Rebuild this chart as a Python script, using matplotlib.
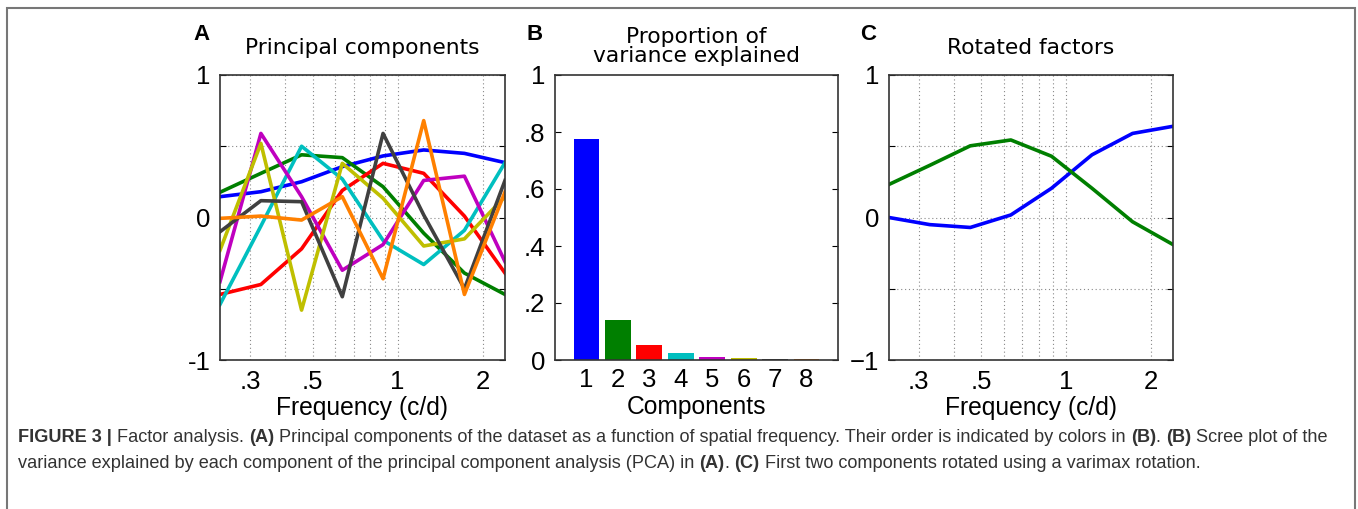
import numpy as np
import matplotlib
matplotlib.use("Agg")
import matplotlib.pyplot as plt
from matplotlib.patches import Rectangle

# spatial frequencies (c/d), log spaced
freqs = [0.235, 0.328, 0.457, 0.637, 0.888, 1.237, 1.724, 2.40]

# principal component loadings (panel A)
pc1 = [0.146, 0.181, 0.251, 0.357, 0.432, 0.474, 0.450, 0.385]
pc2 = [0.177, 0.31, 0.44, 0.42, 0.216, -0.11, -0.39, -0.54]
pc3 = [-0.54, -0.47, -0.22, 0.19, 0.38, 0.31, 0.01, -0.39]
pc4 = [-0.61, -0.06, 0.50, 0.27, -0.16, -0.33, -0.09, 0.385]
pc5 = [-0.45, 0.59, 0.146, -0.37, -0.19, 0.26, 0.29, -0.31]
pc6 = [-0.23, 0.52, -0.65, 0.38, 0.135, -0.20, -0.15, 0.146]
pc7 = [-0.10, 0.118, 0.111, -0.556, 0.59, 0.018, -0.50, 0.26]
pc8 = [-0.006, 0.01, -0.018, 0.146, -0.43, 0.68, -0.54, 0.18]
components = [pc1, pc2, pc3, pc4, pc5, pc6, pc7, pc8]

# variance explained (panel B)
comp_labels = [1, 2, 3, 4, 5, 6, 7, 8]
var_explained = [0.774, 0.140, 0.053, 0.023, 0.012, 0.007, 0.003, 0.003]

# rotated factors (panel C)
rot1 = [0.0, -0.05, -0.07, 0.018, 0.205, 0.44, 0.59, 0.64]
rot2 = [0.232, 0.366, 0.503, 0.544, 0.43, 0.205, -0.03, -0.19]

colors = ["#0000ff", "#007f00", "#ff0000", "#00bfbf", "#bf00bf",
          "#bfbf00", "#404040", "#ff8000"]

tick_font = "Liberation Sans"
title_font = "DejaVu Sans"
grid_style = dict(linestyle=(0, (1, 2.5)), color="#888888", linewidth=0.8)

fig = plt.figure(figsize=(13.58, 5.09), dpi=100)
W, H = 1358.0, 509.0


def px_axes(x0, y0, x1, y1):
    return fig.add_axes([x0 / W, 1 - y1 / H, (x1 - x0) / W, (y1 - y0) / H])


def style_axes(ax):
    for s in ax.spines.values():
        s.set_linewidth(1.2)
        s.set_color("#333333")
    ax.tick_params(direction="in", length=4, width=0.8, top=False, right=True,
                   labelsize=18.5, pad=7)
    for lab in ax.get_xticklabels() + ax.get_yticklabels():
        lab.set_fontfamily(tick_font)


def freq_axes(ax, ylabels):
    ax.set_xscale("log")
    ax.set_xlim(freqs[0], freqs[-1])
    ax.set_ylim(-1, 1)
    ax.set_xticks([0.3, 0.5, 1, 2])
    ax.set_xticklabels([".3", ".5", "1", "2"])
    ax.set_xticks([0.4, 0.6, 0.7, 0.8, 0.9], minor=True)
    ax.set_xticklabels([], minor=True)
    ax.set_yticks([-1, -0.5, 0, 0.5, 1])
    ax.set_yticklabels(ylabels)
    ax.grid(True, which="both", axis="x", **grid_style)
    ax.grid(True, which="major", axis="y", **grid_style)
    ax.tick_params(axis="x", which="both", bottom=False, top=False)
    style_axes(ax)
    ax.set_xlabel("Frequency (c/d)", fontsize=17.7, fontfamily=tick_font, labelpad=2)


# Panel A
axA = px_axes(220, 75, 505, 360)
for vals, c in zip(components, colors):
    axA.plot(freqs, vals, color=c, linewidth=2.6)
freq_axes(axA, ["-1", "", "0", "", "1"])
axA.set_title("Principal components", fontsize=15.7, fontfamily=title_font, pad=15)

# Panel B
axB = px_axes(555, 75, 838, 360)
axB.bar(comp_labels, var_explained, width=0.82, color=colors)
axB.set_xlim(0, 9)
axB.set_ylim(0, 1)
axB.set_xticks(comp_labels)
axB.set_yticks([0, 0.2, 0.4, 0.6, 0.8, 1])
axB.set_yticklabels(["0", ".2", ".4", ".6", ".8", "1"])
style_axes(axB)
axB.tick_params(axis="x", bottom=False, pad=6)
axB.set_xlabel("Components", fontsize=17.7, fontfamily=tick_font, labelpad=2)
axB.set_title("Proportion of\nvariance explained", fontsize=15.7, fontfamily=title_font,
              pad=9, linespacing=0.95)

# Panel C
axC = px_axes(889, 75, 1173, 360)
axC.plot(freqs, rot1, color=colors[0], linewidth=2.6)
axC.plot(freqs, rot2, color=colors[1], linewidth=2.6)
freq_axes(axC, ["\u22121", "", "0", "", "1"])
axC.set_title("Rotated factors", fontsize=15.7, fontfamily=title_font, pad=15)

# panel letters
for letter, xp in [("A", 193), ("B", 527), ("C", 860)]:
    fig.text(xp / W, 1 - 35 / H, letter, fontsize=16, fontweight="bold",
             fontfamily=tick_font, va="center", ha="left")

# outer frame
fig.patches.append(Rectangle((7 / W, -0.05), (1355 - 7) / W, 1 - 8 / H + 0.05,
                             transform=fig.transFigure, fill=False,
                             edgecolor="#777777", linewidth=1.5))

# caption with bold fragments, placed one after another
cap_lines = [
    [("FIGURE 3 | ", "bold"), ("Factor analysis. ", "normal"), ("(A)", "bold"),
     (" Principal components of the dataset as a function of spatial frequency. Their order is indicated by colors in ", "normal"),
     ("(B)", "bold"), (". ", "normal"), ("(B)", "bold"), (" Scree plot of the", "normal")],
    [("variance explained by each component of the principal component analysis (PCA) in ", "normal"),
     ("(A)", "bold"), (". ", "normal"), ("(C)", "bold"),
     (" First two components rotated using a varimax rotation.", "normal")],
]
cap_y = [442, 468]
cap_size = 13.05
renderer = fig.canvas.get_renderer()

probe = fig.text(0, 0, "a a", fontsize=cap_size, fontfamily=tick_font)
w_full = probe.get_window_extent(renderer).width
probe.set_text("aa")
space_w = w_full - probe.get_window_extent(renderer).width
probe.remove()

for parts, yp in zip(cap_lines, cap_y):
    x = 18.0
    for txt, wt in parts:
        lead = len(txt) - len(txt.lstrip(" "))
        trail = len(txt) - len(txt.rstrip(" "))
        x += lead * space_w
        t = fig.text(x / W, 1 - yp / H, txt.strip(" "), ha="left", va="baseline",
                     fontsize=cap_size, fontfamily=tick_font, fontweight=wt, color="#333333")
        x += t.get_window_extent(renderer).width + trail * space_w

fig.savefig("out.png", dpi=100)
